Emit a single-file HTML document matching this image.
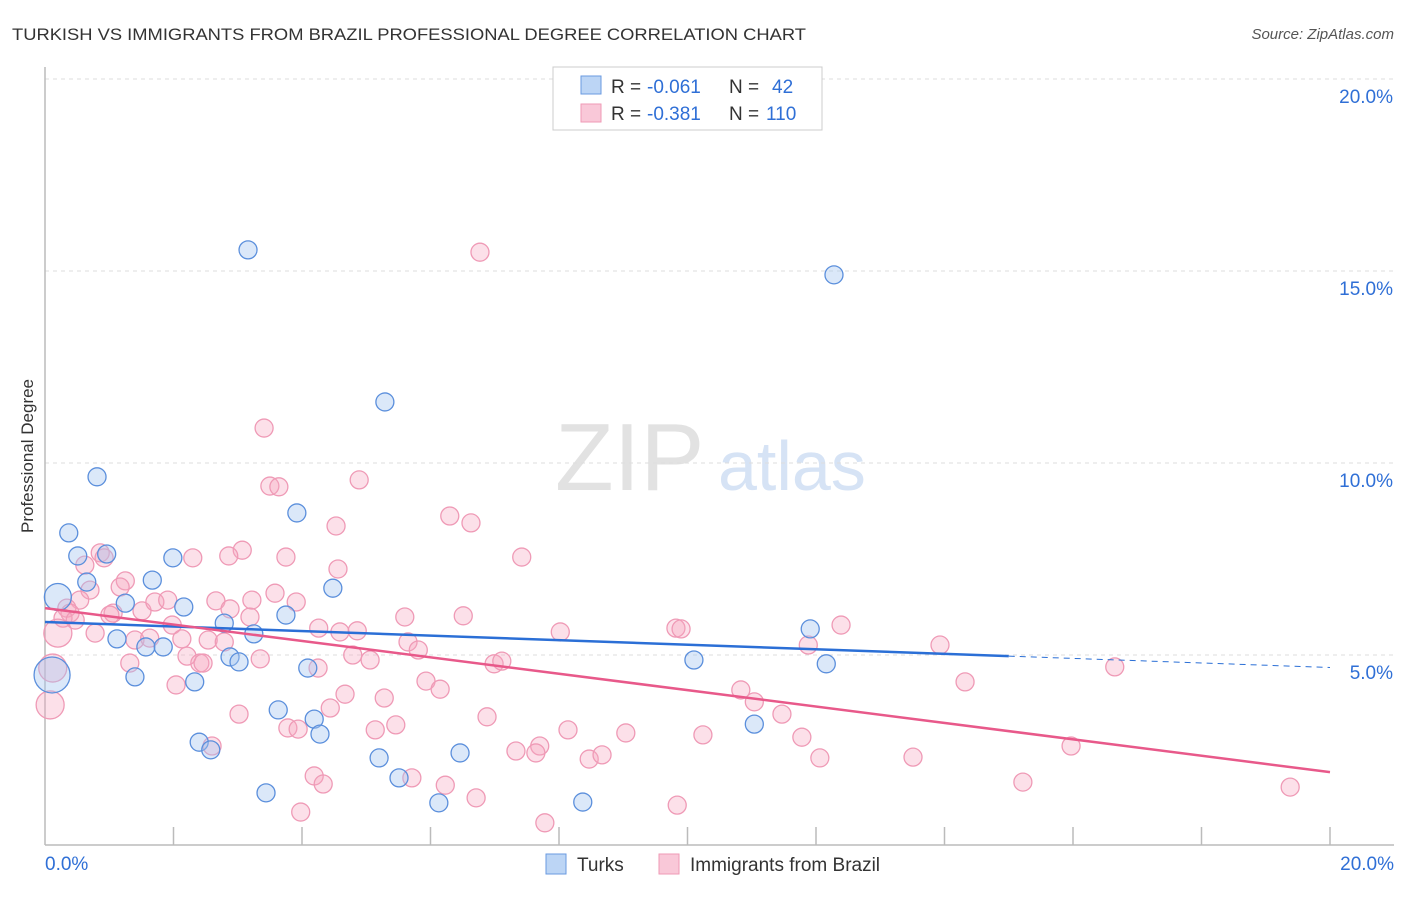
<!DOCTYPE html>
<html><head><meta charset="utf-8"><style>
body{margin:0;background:#fff;font-family:"Liberation Sans",sans-serif;}
svg text{font-family:"Liberation Sans",sans-serif;}
</style></head><body>
<svg id="chart" width="1406" height="892" xmlns="http://www.w3.org/2000/svg">
<text x="12" y="40" font-size="17" fill="#333" textLength="794" lengthAdjust="spacingAndGlyphs">TURKISH VS IMMIGRANTS FROM BRAZIL PROFESSIONAL DEGREE CORRELATION CHART</text>
<text x="1394" y="39" font-size="15" fill="#555" text-anchor="end" font-style="italic">Source: ZipAtlas.com</text>
<text x="555" y="490" font-size="96" fill="#e2e2e2" font-family="Liberation Serif">ZIP</text>
<text x="718" y="490" font-size="70" fill="#d6e3f5">atlas</text>
<g id="grid"></g><g id="axes"></g><g id="pts"></g><g id="lines"></g>
<text transform="translate(33,456) rotate(-90)" font-size="17" fill="#333" text-anchor="middle">Professional Degree</text>
<g>
<rect x="553" y="67" width="269" height="63" fill="#fff" stroke="#ccc"/>
<rect x="581" y="76" width="20" height="18" fill="#bcd5f5" stroke="#6a9ae0"/>
<rect x="581" y="104" width="20" height="18" fill="#f9c8d8" stroke="#ef9ab6"/>
<text y="93" font-size="19" fill="#333"><tspan x="611">R =</tspan><tspan x="647" fill="#2f6fd6">-0.061</tspan><tspan x="729">N =</tspan><tspan x="772" fill="#2f6fd6">42</tspan></text>
<text y="120" font-size="19" fill="#333"><tspan x="611">R =</tspan><tspan x="647" fill="#2f6fd6">-0.381</tspan><tspan x="729">N =</tspan><tspan x="766" fill="#2f6fd6">110</tspan></text>
</g>
<g>
<rect x="546" y="854" width="20" height="20" fill="#bcd5f5" stroke="#6a9ae0"/>
<text x="577" y="871" font-size="19" fill="#333">Turks</text>
<rect x="659" y="854" width="20" height="20" fill="#f9c8d8" stroke="#ef9ab6"/>
<text x="690" y="871" font-size="19" fill="#333">Immigrants from Brazil</text>
</g>
</svg>
<script>
const yTicks=[5,10,15,20];
const xTickLabels=["0.0%","20.0%"];
const turksX=[3.16,12.28,5.29,0.81,3.92,0.37,0.51,0.96,1.99,1.67,0.65,4.48,0.20,1.25,2.16,3.75,2.79,11.91,1.12,1.57,1.84,3.25,2.88,3.02,4.09,10.10,12.16,1.40,0.11,2.33,3.63,4.19,4.28,11.04,2.40,2.58,6.46,5.20,5.51,3.44,6.13,8.37];
const turksY=[15.55,14.90,11.59,9.64,8.70,8.18,7.58,7.63,7.53,6.95,6.90,6.74,6.51,6.35,6.25,6.04,5.83,5.68,5.42,5.21,5.21,5.55,4.95,4.82,4.66,4.87,4.77,4.43,4.48,4.30,3.57,3.33,2.94,3.20,2.73,2.53,2.45,2.32,1.80,1.41,1.15,1.17];
const turksSize=[1,1,1,1,1,1,1,1,1,1,1,1,1.5,1,1,1,1,1,1,1,1,1,1,1,1,1,1,1,2,1,1,1,1,1,1,1,1,1,1,1,1,1];
const brX=[6.77,3.41,3.50,3.64,4.89,6.30,6.63,4.53,0.86,0.92,3.07,3.75,2.30,7.42,2.86,4.56,0.62,1.25,1.17,0.70,0.54,0.34,0.39,0.28,0.47,0.20,0.78,1.06,1.51,1.01,1.71,1.91,2.66,2.88,3.58,3.91,3.22,3.19,5.60,6.51,1.98,1.40,1.63,2.13,2.54,2.79,4.26,4.59,4.86,4.25,5.65,5.81,8.02,9.82,9.90,12.39,11.88,13.93,2.21,2.41,2.46,3.35,4.79,5.06,6.99,7.11,1.32,0.12,2.04,5.93,6.15,4.67,5.28,14.32,16.65,10.83,11.04,4.44,11.47,6.88,3.02,0.08,3.78,3.94,5.14,5.46,8.14,9.04,10.24,11.78,7.70,7.33,7.64,8.47,8.67,12.06,13.51,15.97,2.60,4.19,4.33,5.71,6.23,6.71,3.98,7.78,9.84,15.22,19.38];
const brY=[15.49,10.91,9.40,9.38,9.56,8.62,8.44,8.36,7.66,7.53,7.73,7.55,7.53,7.55,7.58,7.24,7.34,6.93,6.77,6.69,6.43,6.22,6.09,5.96,5.91,5.57,5.57,6.09,6.15,6.04,6.38,6.43,6.41,6.20,6.61,6.38,6.43,5.99,5.99,6.02,5.78,5.39,5.44,5.42,5.39,5.34,5.70,5.60,5.63,4.66,5.34,5.13,5.60,5.70,5.68,5.78,5.26,5.26,4.97,4.79,4.79,4.90,5.00,4.87,4.77,4.84,4.79,4.66,4.22,4.32,4.11,3.98,3.88,4.30,4.69,4.09,3.78,3.62,3.46,3.39,3.46,3.70,3.10,3.07,3.05,3.18,3.05,2.97,2.92,2.86,2.63,2.50,2.45,2.29,2.40,2.32,2.34,2.63,2.63,1.85,1.64,1.80,1.61,1.28,0.91,0.63,1.09,1.69,1.56];
const brBig=[0.20,0.12,0.08];
const turksTrend=[5.86,-0.0593];
const brTrend=[6.22,-0.2135];
const NS="http://www.w3.org/2000/svg";
const X0=45,X1=1330,Y0=847,YP=38.4;
const sx=v=>X0+(X1-X0)*v/20, sy=v=>Y0-v*YP;
function mk(t,a,p){const e=document.createElementNS(NS,t);for(const k in a)e.setAttribute(k,a[k]);document.getElementById(p).appendChild(e);return e;}
yTicks.forEach(t=>{
 const g=mk('line',{x1:45,x2:1394,y1:sy(t),y2:sy(t),stroke:'#ddd','stroke-dasharray':'4,4'},'grid');
 
 
 const l=mk('text',{x:1393,y:sy(t)+24,'font-size':19,fill:'#2f6fd6','text-anchor':'end'},'axes');
 l.textContent=t.toFixed(1)+'%';
 
 
});
const ax=mk('line',{x1:45,x2:45,y1:67,y2:845,stroke:'#bbb','stroke-width':1.5},'axes');


const bx=mk('line',{x1:45,x2:1394,y1:845,y2:845,stroke:'#bbb','stroke-width':1.5},'axes');


for(let i=1;i<=10;i++){const t=mk('line',{x1:sx(i*2),x2:sx(i*2),y1:827,y2:845,stroke:'#bbb','stroke-width':1.5},'axes');
 
 }
xTickLabels.forEach((s,i)=>{const l=mk('text',{x:i?1394:45,y:870,'font-size':19,fill:'#2f6fd6','text-anchor':i?'end':'start'},'axes');l.textContent=s;
 
 });
brX.forEach((v,i)=>{const r=brBig.includes(v)?14:9;const c=mk('circle',{cx:sx(v),cy:sy(brY[i]),r:r,fill:'rgba(246,165,192,0.35)',stroke:'#ef9ab6','stroke-width':1.3},'pts');
 
 });
turksX.forEach((v,i)=>{const c=mk('circle',{cx:sx(v),cy:sy(turksY[i]),r:9*turksSize[i],fill:'rgba(165,198,240,0.4)',stroke:'#5b8fdc','stroke-width':1.3},'pts');
 
 });
const f=(tr,x)=>tr[0]+tr[1]*x;
let l1=mk('line',{x1:sx(0),y1:sy(f(turksTrend,0)),x2:sx(15),y2:sy(f(turksTrend,15)),stroke:'#2b6fd6','stroke-width':2.5},'lines');


let l2=mk('line',{x1:sx(15),y1:sy(f(turksTrend,15)),x2:sx(20),y2:sy(f(turksTrend,20)),stroke:'#2b6fd6','stroke-width':1,'stroke-dasharray':'6,5'},'lines');


let l3=mk('line',{x1:sx(0),y1:sy(f(brTrend,0)),x2:sx(20),y2:sy(f(brTrend,20)),stroke:'#e8598a','stroke-width':2.5},'lines');


</script>
</body></html>
